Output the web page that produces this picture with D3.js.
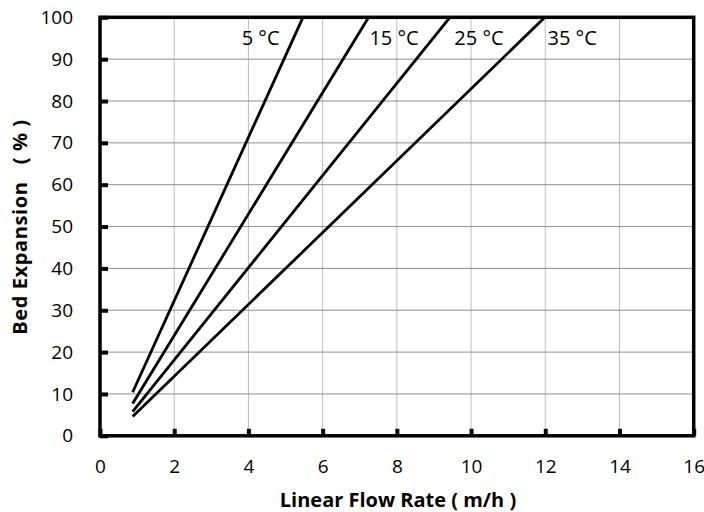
<!DOCTYPE html>
<html>
<head>
<meta charset="utf-8">
<script src="https://cdn.jsdelivr.net/npm/d3@7"></script>
<style>
  body { margin: 0; background: #fff; }
  text { font-family: "Open Sans", "Liberation Sans", sans-serif; }
</style>
</head>
<body>
<div id="chart"></div>
<script>
// data: flow rate (m/h) vs bed expansion (%)
var temps = ["5", "15", "25", "35"];
var flowStart = [0.88, 0.88, 0.88, 0.88];
var expStart = [10.4, 7.7, 5.8, 4.6];
var flowEnd = [5.47, 7.24, 9.43, 11.99];
var expEnd = [100, 100, 100, 100];
var labelFlow = [3.82, 7.26, 9.55, 12.06];
var xTicks = [0, 2, 4, 6, 8, 10, 12, 14, 16];
var yTicks = [0, 10, 20, 30, 40, 50, 60, 70, 80, 90, 100];

var width = 704, height = 512;
var margin = {top: 17.3, right: 10.3, bottom: 76.2, left: 100};
var w = width - margin.left - margin.right,
    h = height - margin.top - margin.bottom;

var x = d3.scaleLinear().domain([0, 16]).range([0, w]);
var y = d3.scaleLinear().domain([0, 100]).range([h, 0]);

var svg = d3.select("#chart").append("svg")
    .attr("width", width)
    .attr("height", height);
var g = svg.append("g")
    .attr("transform", "translate(" + margin.left + "," + margin.top + ")");

// gridlines
g.append("g").selectAll("line")
    .data(xTicks.slice(1, -1))
  .enter().append("line")
    .attr("x1", function(d) { return x(d); })
    .attr("x2", function(d) { return x(d); })
    .attr("y1", 0).attr("y2", h)
    .style("stroke", "#bdbdbd").style("stroke-width", 1);
g.append("g").selectAll("line")
    .data(yTicks.slice(1, -1))
  .enter().append("line")
    .attr("y1", function(d) { return y(d); })
    .attr("y2", function(d) { return y(d); })
    .attr("x1", 0).attr("x2", w)
    .style("stroke", "#8f8f8f").style("stroke-width", 1);

// axes, ticks pointing inward
var xAxis = d3.axisBottom(x).tickValues(xTicks).tickSizeInner(-7).tickSizeOuter(0).tickPadding(31);
var yAxis = d3.axisLeft(y).tickValues(yTicks).tickSizeInner(-8).tickSizeOuter(0).tickPadding(27);

var gx = g.append("g").attr("transform", "translate(0," + h + ")").call(xAxis);
var gy = g.append("g").call(yAxis);
[gx, gy].forEach(function(a) {
  a.select(".domain").remove();
  a.selectAll(".tick line").style("stroke", "#000").style("stroke-width", 4);
  a.selectAll(".tick text").style("font-size", "19px").style("fill", "#000");
});
gx.selectAll(".tick text").attr("dy", "0.35em");

// frame
g.append("rect")
    .attr("width", w).attr("height", h)
    .style("fill", "none").style("stroke", "#000").style("stroke-width", 3.5);

// lines
var line = d3.line().x(function(d) { return x(d[0]); }).y(function(d) { return y(d[1]); });
temps.forEach(function(t, i) {
  g.append("path")
    .datum([[flowStart[i], expStart[i]], [flowEnd[i], expEnd[i]]])
    .attr("d", line)
    .style("fill", "none").style("stroke", "#000").style("stroke-width", 2.8);
});

// temperature labels
temps.forEach(function(t, i) {
  g.append("text")
    .attr("x", x(labelFlow[i]))
    .attr("y", 27.7)
    .style("font-size", "20px")
    .style("white-space", "pre")
    .text(t + " °C");
});

// axis titles
svg.append("text")
    .attr("x", 398)
    .attr("y", 506.5)
    .attr("text-anchor", "middle")
    .style("font-size", "20px").style("font-weight", "bold")
    .text("Linear Flow Rate ( m/h )");
svg.append("text")
    .attr("transform", "translate(26.5,227) rotate(-90)")
    .attr("text-anchor", "middle")
    .style("font-size", "20px").style("font-weight", "bold")
    .style("letter-spacing", "0.6px")
    .style("white-space", "pre")
    .text("Bed Expansion   ( % )");
</script>
</body>
</html>
